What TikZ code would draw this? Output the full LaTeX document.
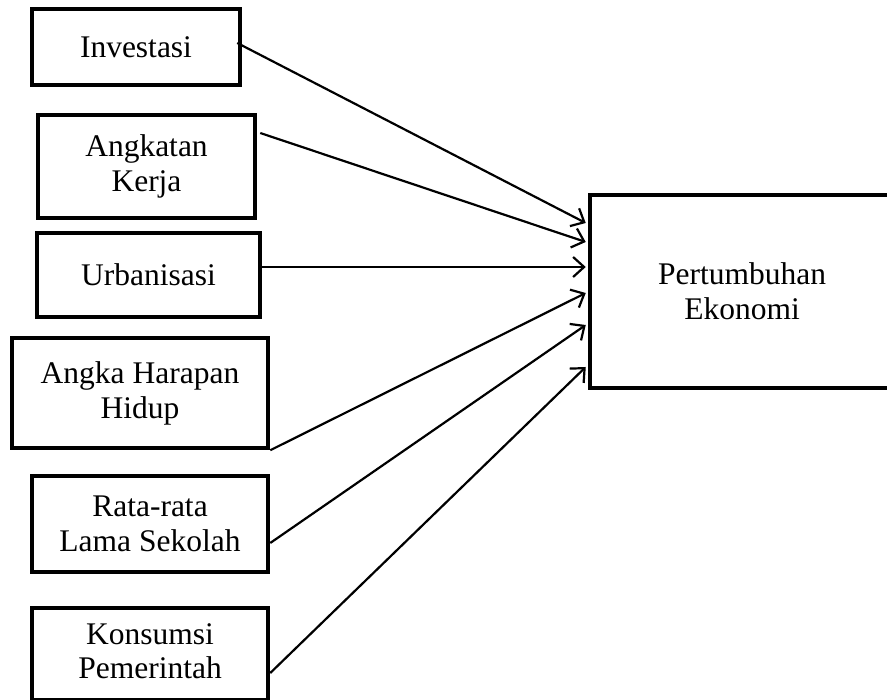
\documentclass[tikz,border=0pt]{standalone}
\usepackage{fontspec}
\setmainfont{Liberation Serif}
\usetikzlibrary{arrows.meta}
\begin{document}
\begin{tikzpicture}[x=1pt,y=-1pt,
  var/.style={draw=black,line width=4.5pt,rectangle,inner sep=0pt,align=center,
    font=\fontsize{31.5}{35}\selectfont},
  conn/.style={line width=2.2pt,-{Straight Barb[length=11pt,width=20pt,line width=2.2pt]}}]
\useasboundingbox (0,0) rectangle (887,700);
\node[var,minimum width=208pt,minimum height=76pt] (inv) at (136,47) {Investasi};
\node[var,minimum width=217pt,minimum height=103pt] (ak) at (146.5,166.5) {Angkatan\\Kerja};
\node[var,minimum width=223pt,minimum height=84pt] (ur) at (148.5,275) {Urbanisasi};
\node[var,minimum width=256pt,minimum height=110pt] (ah) at (140,393) {Angka Harapan\\Hidup};
\node[var,minimum width=236pt,minimum height=96pt] (rr) at (150,524) {Rata-rata\\Lama Sekolah};
\node[var,minimum width=236pt,minimum height=92pt] (ks) at (150,654) {\raisebox{-4pt}{\begin{tabular}{@{}c@{}}Konsumsi\\[-1pt]Pemerintah\end{tabular}}};
\node[var,minimum width=304pt,minimum height=193pt] (pe) at (742,291.5) {Pertumbuhan\\Ekonomi};
\draw[conn] ([xshift=-5pt,yshift=4pt]inv.east) -- ([xshift=-2pt,yshift=68.5pt]pe.west);
\draw[conn] ([xshift=3pt,yshift=33.5pt]ak.east) -- ([xshift=-2pt,yshift=49.5pt]pe.west);
\draw[conn] ([xshift=0pt,yshift=8pt]ur.east) -- ([xshift=-2pt,yshift=24.5pt]pe.west);
\draw[conn] (ah.south east) -- ([xshift=-2pt,yshift=-1.5pt]pe.west);
\draw[conn] ([yshift=-19pt]rr.east) -- ([xshift=-2pt,yshift=-33.5pt]pe.west);
\draw[conn] ([yshift=-19pt]ks.east) -- ([xshift=-2pt,yshift=-75.5pt]pe.west);
\end{tikzpicture}
\end{document}
